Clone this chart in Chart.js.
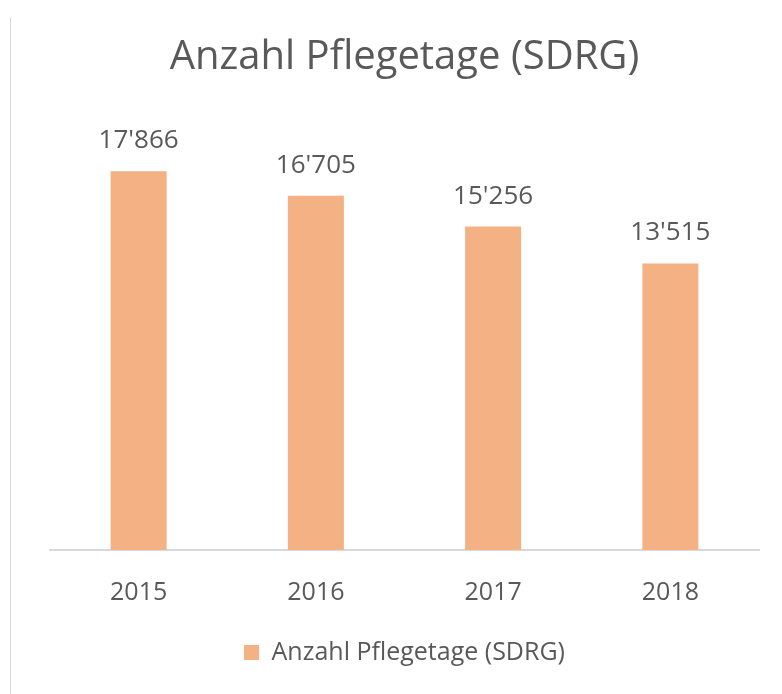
<!DOCTYPE html>
<html>
<head>
<meta charset="utf-8">
<script src="https://cdn.jsdelivr.net/npm/chart.js@4/dist/chart.umd.min.js"></script>
<style>
  html, body { margin: 0; padding: 0; background: #fff; }
  #wrap { position: relative; width: 782px; height: 694px; }
  #edge { position: absolute; left: 10px; top: 18px; width: 1px; height: 676px; background: #d9d9d9; }
  canvas { position: absolute; left: 0; top: 0; }
</style>
</head>
<body>
<div id="wrap"><div id="edge"></div><canvas id="c" width="782" height="694"></canvas></div>
<script>
const categories = ['2015', '2016', '2017', '2018'];
const seriesName = 'Anzahl Pflegetage (SDRG)';
const values = [17866, 16705, 15256, 13515];
const chartTitle = 'Anzahl Pflegetage (SDRG)';

const FONT = "'Open Sans', 'Noto Sans', sans-serif";
const TEXT = '#595959';

function fmt(v) {
  return String(v).replace(/\B(?=(\d{3})+(?!\d))/g, "'");
}

const labelPlugin = {
  id: 'barLabels',
  afterDatasetsDraw(chart) {
    const ctx = chart.ctx;
    const meta = chart.getDatasetMeta(0);
    ctx.save();
    ctx.font = '26px ' + FONT;
    ctx.fillStyle = TEXT;
    ctx.textAlign = 'center';
    ctx.textBaseline = 'alphabetic';
    meta.data.forEach((bar, i) => {
      ctx.fillText(fmt(chart.data.datasets[0].data[i]), bar.x, bar.y - 23);
    });
    ctx.restore();
  }
};

new Chart(document.getElementById('c'), {
  type: 'bar',
  data: {
    labels: categories,
    datasets: [{
      label: seriesName,
      data: values,
      backgroundColor: '#F4B183',
      borderWidth: 0,
      categoryPercentage: 1.0,
      barPercentage: 0.316
    }]
  },
  options: {
    responsive: false,
    animation: false,
    layout: { padding: { left: 50, right: 23, top: 0, bottom: 19 } },
    plugins: {
      title: {
        display: true,
        text: chartTitle,
        color: TEXT,
        font: { family: FONT, size: 40, weight: 'normal' },
        padding: { top: 34, bottom: 44 }
      },
      legend: {
        position: 'bottom',
        labels: {
          color: TEXT,
          font: { family: FONT, size: 25 },
          boxWidth: 15,
          boxHeight: 15,
          padding: 10
        }
      },
      tooltip: { enabled: false }
    },
    scales: {
      x: {
        grid: { display: false, drawTicks: false },
        border: { color: '#d9d9d9', width: 2 },
        ticks: { color: TEXT, font: { family: FONT, size: 25 }, padding: 28 },
        afterFit(scale) { scale.height -= 6; }
      },
      y: {
        display: false,
        min: 0,
        max: 20000
      }
    }
  },
  plugins: [labelPlugin]
});
</script>
</body>
</html>
